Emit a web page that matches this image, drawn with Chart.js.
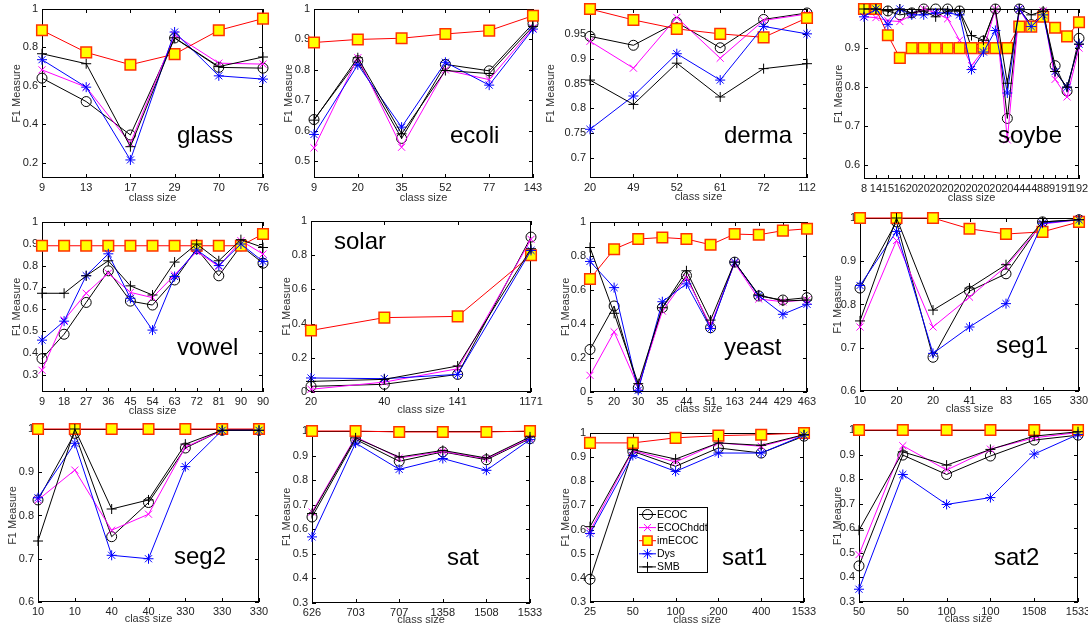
<!DOCTYPE html>
<html>
<head>
<meta charset="utf-8">
<script src="https://cdn.jsdelivr.net/npm/chart.js@4.4.1/dist/chart.umd.min.js"></script>
<style>
  html, body { margin: 0; padding: 0; background: #fff; }
  #page { position: relative; width: 1088px; height: 626px; overflow: hidden; }
</style>
</head>
<body>
<div id="page"></div>
<script>
// ---- data ----
const seriesNames = ['ECOC', 'ECOChddt', 'imECOC', 'Dys', 'SMB'];

const glassSizes  = ['9', '13', '17', '29', '70', '76'];
const glassECOC   = [0.64, 0.518, 0.344, 0.849, 0.696, 0.692];
const glassHddt   = [0.683, 0.593, 0.30, 0.866, 0.718, 0.713];
const glassImECOC = [0.889, 0.774, 0.71, 0.765, 0.889, 0.95];
const glassDys    = [0.736, 0.593, 0.214, 0.88, 0.652, 0.635];
const glassSMB    = [0.767, 0.715, 0.283, 0.85, 0.70, 0.75];

const ecoliSizes  = ['9', '20', '35', '52', '77', '143'];
const ecoliECOC   = [0.637, 0.83, 0.575, 0.818, 0.797, 0.952];
const ecoliHddt   = [0.544, 0.84, 0.546, 0.80, 0.768, 0.938];
const ecoliImECOC = [0.89, 0.90, 0.904, 0.918, 0.929, 0.978];
const ecoliDys    = [0.588, 0.817, 0.612, 0.825, 0.75, 0.934];
const ecoliSMB    = [0.635, 0.84, 0.59, 0.798, 0.788, 0.943];

const dermaSizes  = ['20', '49', '52', '61', '72', '112'];
const dermaECOC   = [0.945, 0.927, 0.973, 0.922, 0.979, 0.992];
const dermaHddt   = [0.935, 0.881, 0.983, 0.901, 0.977, 0.99];
const dermaImECOC = [1.0, 0.978, 0.96, 0.95, 0.943, 0.982];
const dermaDys    = [0.758, 0.825, 0.91, 0.857, 0.965, 0.95];
const dermaSMB    = [0.857, 0.808, 0.891, 0.823, 0.88, 0.89];

const soybeSizes  = ['8', '14', '15', '16', '20', '20', '20', '20', '20', '20', '20', '20', '20', '44', '44', '88', '91', '91', '192'];
const soybeECOC   = [1.0, 1.0, 0.995, 0.985, 0.99, 1.0, 1.0, 1.0, 0.995, 0.90, 0.918, 1.0, 0.72, 1.0, 0.96, 0.99, 0.855, 0.79, 0.925];
const soybeHddt   = [0.98, 0.978, 0.97, 0.968, 0.985, 1.0, 0.99, 0.975, 0.92, 0.855, 0.895, 1.0, 0.665, 1.0, 0.95, 0.995, 0.82, 0.775, 0.90];
const soybeImECOC = [1.0, 1.0, 0.933, 0.875, 0.9, 0.9, 0.9, 0.9, 0.9, 0.9, 0.9, 0.9, 0.9, 0.955, 0.955, 0.98, 0.952, 0.93, 0.966];
const soybeDys    = [0.98, 1.0, 0.96, 1.0, 0.985, 0.985, 0.99, 0.99, 0.985, 0.845, 0.89, 0.945, 0.785, 1.0, 0.955, 0.985, 0.84, 0.8, 0.91];
const soybeSMB    = [1.0, 1.0, 0.995, 1.0, 0.99, 0.995, 0.98, 0.995, 0.995, 0.932, 0.92, 1.0, 0.81, 1.0, 0.985, 0.995, 0.84, 0.8, 0.91];

const vowelSizes  = ['9', '18', '27', '36', '45', '54', '63', '72', '81', '90', '90'];
const vowelECOC   = [0.373, 0.485, 0.631, 0.776, 0.637, 0.619, 0.734, 0.877, 0.753, 0.891, 0.811];
const vowelHddt   = [0.32, 0.55, 0.673, 0.765, 0.677, 0.653, 0.757, 0.865, 0.796, 0.914, 0.853];
const vowelImECOC = [0.891, 0.891, 0.891, 0.891, 0.891, 0.891, 0.891, 0.891, 0.891, 0.891, 0.945];
const vowelDys    = [0.458, 0.545, 0.754, 0.854, 0.65, 0.504, 0.75, 0.872, 0.80, 0.899, 0.819];
const vowelSMB    = [0.673, 0.673, 0.753, 0.822, 0.707, 0.665, 0.816, 0.899, 0.822, 0.919, 0.883];

const solarSizes  = ['20', '40', '141', '1171'];
const solarECOC   = [0.033, 0.045, 0.103, 0.906];
const solarHddt   = [0.016, 0.058, 0.136, 0.893];
const solarImECOC = [0.36, 0.435, 0.442, 0.80];
const solarDys    = [0.082, 0.078, 0.103, 0.828];
const solarSMB    = [0.062, 0.074, 0.152, 0.838];

const yeastSizes  = ['5', '20', '30', '35', '44', '51', '163', '244', '429', '463'];
const yeastECOC   = [0.25, 0.506, 0.024, 0.496, 0.685, 0.378, 0.764, 0.565, 0.541, 0.555];
const yeastHddt   = [0.098, 0.354, 0.03, 0.476, 0.673, 0.39, 0.758, 0.547, 0.531, 0.541];
const yeastImECOC = [0.665, 0.84, 0.90, 0.909, 0.90, 0.866, 0.929, 0.925, 0.949, 0.96];
const yeastDys    = [0.768, 0.614, 0.01, 0.531, 0.636, 0.374, 0.764, 0.567, 0.457, 0.516];
const yeastSMB    = [0.85, 0.463, 0.049, 0.496, 0.713, 0.423, 0.764, 0.571, 0.535, 0.541];

const seg1Sizes   = ['10', '20', '20', '41', '83', '165', '330'];
const seg1ECOC    = [0.838, 0.991, 0.678, 0.831, 0.871, 0.991, 0.996];
const seg1Hddt    = [0.748, 0.948, 0.748, 0.817, 0.888, 0.986, 0.996];
const seg1ImECOC  = [1.0, 1.0, 1.0, 0.975, 0.963, 0.968, 0.991];
const seg1Dys     = [0.844, 0.969, 0.687, 0.748, 0.802, 0.988, 0.996];
const seg1SMB     = [0.762, 1.0, 0.787, 0.838, 0.892, 0.991, 0.996];

const seg2Sizes   = ['10', '10', '40', '40', '330', '330', '330'];
const seg2ECOC    = [0.836, 0.99, 0.751, 0.83, 0.956, 0.997, 0.997];
const seg2Hddt    = [0.836, 0.905, 0.766, 0.803, 0.958, 0.997, 0.997];
const seg2ImECOC  = [1.0, 1.0, 1.0, 1.0, 1.0, 1.0, 1.0];
const seg2Dys     = [0.841, 0.967, 0.708, 0.70, 0.913, 0.997, 0.997];
const seg2SMB     = [0.741, 1.0, 0.815, 0.836, 0.965, 0.997, 0.997];

const satSizes    = ['626', '703', '707', '1358', '1508', '1533'];
const satECOC     = [0.65, 0.966, 0.877, 0.915, 0.883, 0.969];
const satHddt     = [0.67, 0.976, 0.89, 0.917, 0.887, 0.972];
const satImECOC   = [1.0, 1.0, 0.996, 0.996, 0.996, 1.0];
const satDys      = [0.569, 0.951, 0.844, 0.888, 0.84, 0.965];
const satSMB      = [0.664, 0.972, 0.894, 0.921, 0.89, 0.976];

const sat1Sizes   = ['25', '50', '100', '200', '400', '1533'];
const sat1ECOC    = [0.394, 0.924, 0.862, 0.938, 0.917, 0.987];
const sat1Hddt    = [0.594, 0.927, 0.88, 0.959, 0.945, 0.991];
const sat1ImECOC  = [0.959, 0.959, 0.98, 0.989, 0.993, 1.0];
const sat1Dys     = [0.584, 0.907, 0.841, 0.917, 0.917, 0.991];
const sat1SMB     = [0.612, 0.931, 0.892, 0.959, 0.949, 0.993];

const sat2Sizes   = ['50', '50', '100', '100', '1508', '1533'];
const sat2ECOC    = [0.447, 0.898, 0.819, 0.894, 0.959, 0.979];
const sat2Hddt    = [0.493, 0.936, 0.837, 0.922, 0.968, 0.99];
const sat2ImECOC  = [1.0, 1.0, 1.0, 1.0, 1.0, 1.0];
const sat2Dys     = [0.352, 0.819, 0.697, 0.725, 0.902, 0.982];
const sat2SMB     = [0.592, 0.911, 0.857, 0.921, 0.975, 0.993];

// y tick labels shown on each panel
const ticksTenths = [0.3, 0.4, 0.5, 0.6, 0.7, 0.8, 0.9, 1];
const ticksFifths = [0, 0.2, 0.4, 0.6, 0.8, 1];
const ticksGlass  = [0.2, 0.4, 0.6, 0.8, 1];
const ticksEcoli  = [0.5, 0.6, 0.7, 0.8, 0.9, 1];
const ticksDerma  = [0.7, 0.75, 0.8, 0.85, 0.9, 0.95];
const ticksSoybe  = [0.6, 0.7, 0.8, 0.9];
const ticksSeg    = [0.6, 0.7, 0.8, 0.9, 1];

const panels = [
  { name: 'glass', sizes: glassSizes, series: [glassECOC, glassHddt, glassImECOC, glassDys, glassSMB], yMin: 0.12, yMax: 1, yTicks: ticksGlass },
  { name: 'ecoli', sizes: ecoliSizes, series: [ecoliECOC, ecoliHddt, ecoliImECOC, ecoliDys, ecoliSMB], yMin: 0.445, yMax: 1, yTicks: ticksEcoli },
  { name: 'derma', sizes: dermaSizes, series: [dermaECOC, dermaHddt, dermaImECOC, dermaDys, dermaSMB], yMin: 0.66, yMax: 1, yTicks: ticksDerma },
  { name: 'soybe', sizes: soybeSizes, series: [soybeECOC, soybeHddt, soybeImECOC, soybeDys, soybeSMB], yMin: 0.565, yMax: 1, yTicks: ticksSoybe },
  { name: 'vowel', sizes: vowelSizes, series: [vowelECOC, vowelHddt, vowelImECOC, vowelDys, vowelSMB], yMin: 0.22, yMax: 1, yTicks: ticksTenths },
  { name: 'solar', sizes: solarSizes, series: [solarECOC, solarHddt, solarImECOC, solarDys, solarSMB], yMin: 0, yMax: 1, yTicks: ticksFifths },
  { name: 'yeast', sizes: yeastSizes, series: [yeastECOC, yeastHddt, yeastImECOC, yeastDys, yeastSMB], yMin: 0, yMax: 1, yTicks: ticksFifths },
  { name: 'seg1', sizes: seg1Sizes, series: [seg1ECOC, seg1Hddt, seg1ImECOC, seg1Dys, seg1SMB], yMin: 0.6, yMax: 1, yTicks: ticksSeg },
  { name: 'seg2', sizes: seg2Sizes, series: [seg2ECOC, seg2Hddt, seg2ImECOC, seg2Dys, seg2SMB], yMin: 0.6, yMax: 1, yTicks: ticksSeg },
  { name: 'sat', sizes: satSizes, series: [satECOC, satHddt, satImECOC, satDys, satSMB], yMin: 0.3, yMax: 1, yTicks: ticksTenths },
  { name: 'sat1', sizes: sat1Sizes, series: [sat1ECOC, sat1Hddt, sat1ImECOC, sat1Dys, sat1SMB], yMin: 0.3, yMax: 1, yTicks: ticksTenths, legend: true },
  { name: 'sat2', sizes: sat2Sizes, series: [sat2ECOC, sat2Hddt, sat2ImECOC, sat2Dys, sat2SMB], yMin: 0.3, yMax: 1, yTicks: ticksTenths }
];

// ---- layout (page pixels) ----
const rowTops = [0, 209, 418];
const rowHeights = [209, 209, 208];
// plot box [left, top, right, bottom]
const plotBoxes = [
  [42, 9, 269, 178], [314, 9, 533, 178], [590, 8, 810, 178], [864, 8, 1085, 179],
  [42, 222, 269, 392], [311, 221, 531, 392], [590, 222, 807, 392], [860, 218, 1081, 391],
  [38, 429, 259, 602], [312, 431, 530, 603], [590, 433, 804, 602], [859, 430, 1078, 602]
];
const yTitleX = [17, 289, 551, 839, 17, 287, 566, 838, 13, 287, 566, 838];
const xTitleY = [198, 198, 197, 198, 411, 410, 409, 409, 619, 620, 620, 619];
const namePos = [
  [177, 143], [450, 143], [724, 143], [998, 143],
  [177, 355], [334, 249], [724, 355], [996, 353],
  [174, 564], [447, 565], [722, 565], [994, 565]
];
const legendBox = [637, 507, 707, 572];

const FONT = '"Liberation Sans", Arial, Helvetica, sans-serif';

const seriesStyle = [
  { color: '#000000', point: 'circle',   r: 5,   fill: 'rgba(0,0,0,0)', edge: '#000000', bw: 1 },
  { color: '#ff00ff', point: 'crossRot', r: 5,   fill: '#ff00ff',       edge: '#ff00ff', bw: 1 },
  { color: '#ff0000', point: 'rect',     r: 7.5, fill: '#ffff00',       edge: '#ff3300', bw: 1.5 },
  { color: '#0000ff', point: 'star',     r: 5,   fill: '#0000ff',       edge: '#0000ff', bw: 1 },
  { color: '#000000', point: 'cross',    r: 5,   fill: '#000000',       edge: '#000000', bw: 1 }
];

function fmt(v) {
  return String(+Number(v).toFixed(2));
}

// frame, inner tick marks, panel name and legend
const decorPlugin = {
  id: 'decor',
  beforeDatasetsDraw(chart) {
    const { ctx, chartArea: a, scales: { x, y } } = chart;
    ctx.save();
    ctx.strokeStyle = '#000';
    ctx.lineWidth = 1;
    ctx.strokeRect(a.left + 0.5, a.top + 0.5, a.right - a.left - 1, a.bottom - a.top - 1);
    ctx.beginPath();
    y.ticks.forEach(t => {
      const py = Math.round(y.getPixelForValue(t.value)) + 0.5;
      ctx.moveTo(a.left, py); ctx.lineTo(a.left + 4, py);
      ctx.moveTo(a.right, py); ctx.lineTo(a.right - 4, py);
    });
    x.ticks.forEach((t, i) => {
      const px = Math.round(x.getPixelForTick(i)) + 0.5;
      ctx.moveTo(px, a.bottom); ctx.lineTo(px, a.bottom - 4);
      ctx.moveTo(px, a.top); ctx.lineTo(px, a.top + 4);
    });
    ctx.stroke();
    ctx.restore();
  },
  afterDatasetsDraw(chart, args, opts) {
    const ctx = chart.ctx;
    ctx.save();
    ctx.fillStyle = '#000';
    ctx.font = '24px ' + FONT;
    ctx.textBaseline = 'alphabetic';
    ctx.textAlign = 'left';
    ctx.fillText(opts.name, opts.nameX, opts.nameY);

    if (opts.legend) {
      const [l, t, r, b] = opts.legend;
      ctx.fillStyle = '#fff';
      ctx.fillRect(l, t, r - l, b - t);
      ctx.strokeStyle = '#000';
      ctx.lineWidth = 1;
      ctx.strokeRect(l + 0.5, t + 0.5, r - l, b - t);
      ctx.font = '10.5px ' + FONT;
      ctx.textBaseline = 'middle';
      seriesNames.forEach((n, i) => {
        const st = seriesStyle[i];
        const cy = t + 7.5 + i * 13.1;
        ctx.strokeStyle = st.color;
        ctx.lineWidth = 1;
        ctx.beginPath();
        ctx.moveTo(l + 2, cy); ctx.lineTo(l + 19, cy);
        ctx.stroke();
        if (Chart.helpers && Chart.helpers.drawPoint) {
          ctx.fillStyle = st.fill;
          ctx.strokeStyle = st.edge;
          ctx.lineWidth = st.bw;
          Chart.helpers.drawPoint(ctx, { pointStyle: st.point, radius: st.point === 'rect' ? 6.5 : st.r, rotation: 0, borderWidth: st.bw }, l + 10.5, cy);
        }
        ctx.fillStyle = '#000';
        ctx.fillText(n, l + 20, cy + 0.5);
      });
    }
    ctx.restore();
  }
};

const page = document.getElementById('page');

panels.forEach((p, k) => {
  const col = k % 4, row = Math.floor(k / 4);
  const cx = col * 272, cy = rowTops[row], cw = 272, ch = rowHeights[row];
  const [pl, pt, pr, pb] = plotBoxes[k];

  const canvas = document.createElement('canvas');
  canvas.width = cw;
  canvas.height = ch;
  canvas.style.cssText = `position:absolute;left:${cx}px;top:${cy}px;width:${cw}px;height:${ch}px;`;
  page.appendChild(canvas);

  const datasets = p.series.map((vals, i) => {
    const st = seriesStyle[i];
    return {
      label: seriesNames[i],
      data: vals,
      borderColor: st.color,
      borderWidth: 1,
      pointStyle: st.point,
      pointRadius: st.r,
      pointBackgroundColor: st.fill,
      pointBorderColor: st.edge,
      pointBorderWidth: st.bw,
      fill: false,
      tension: 0,
      clip: false,
      order: 4 - i
    };
  });

  let legend = null;
  if (p.legend) {
    legend = [legendBox[0] - cx, legendBox[1] - cy, legendBox[2] - cx, legendBox[3] - cy];
  }

  new Chart(canvas, {
    type: 'line',
    data: { labels: p.sizes, datasets: datasets },
    options: {
      responsive: false,
      animation: false,
      devicePixelRatio: 1,
      layout: { padding: { left: 0, top: pt - cy, right: cx + cw - pr, bottom: 0 } },
      plugins: {
        legend: { display: false },
        tooltip: { enabled: false },
        decor: { name: p.name, nameX: namePos[k][0] - cx, nameY: namePos[k][1] - cy, legend: legend }
      },
      scales: {
        x: {
          type: 'category',
          offset: false,
          grid: { display: false, drawTicks: false },
          border: { display: false },
          ticks: { autoSkip: false, maxRotation: 0, minRotation: 0, padding: 3, color: '#222', font: { size: 11, family: FONT } },
          title: { display: true, text: 'class size', color: '#333', font: { size: 11, family: FONT },
                   padding: { top: 0, bottom: cy + ch - xTitleY[k] - 6.6 } },
          afterFit(s) {
            s.height = cy + ch - pb;
            s.paddingLeft = 0;
            s.paddingRight = 0;
          }
        },
        y: {
          type: 'linear',
          min: p.yMin,
          max: p.yMax,
          grid: { display: false, drawTicks: false },
          border: { display: false },
          ticks: { padding: 4, color: '#222', font: { size: 11, family: FONT }, callback: v => fmt(v) },
          afterBuildTicks(s) {
            s.ticks = p.yTicks.map(v => ({ value: v }));
          },
          title: { display: true, text: 'F1 Measure', color: '#333', font: { size: 11, family: FONT },
                   padding: { top: Math.max(0, yTitleX[k] - cx - 6.6), bottom: 0 } },
          afterFit(s) {
            s.width = pl - cx;
            s.paddingTop = 0;
            s.paddingBottom = 0;
          }
        }
      }
    },
    plugins: [decorPlugin]
  });
});
</script>
</body>
</html>
